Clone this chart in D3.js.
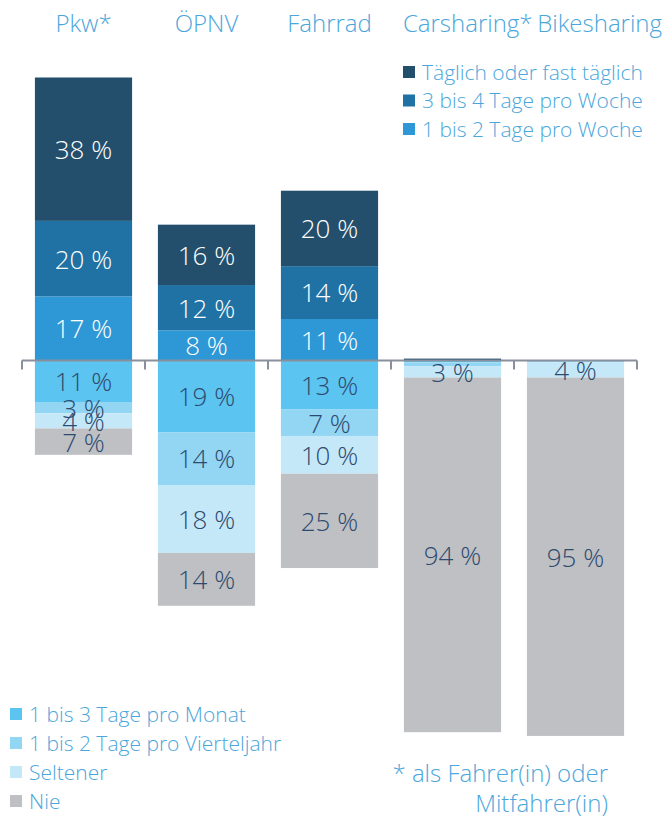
<!DOCTYPE html>
<html>
<head>
<meta charset="utf-8">
<script src="https://cdn.jsdelivr.net/npm/d3@7"></script>
<style>
  body { margin: 0; background: #fff; }
  svg { display: block; font-family: "Open Sans", sans-serif; }
</style>
</head>
<body>
<svg id="chart" width="665" height="818"></svg>
<script>
// Categories and series (percent)
const categories = ["Pkw*", "ÖPNV", "Fahrrad", "Carsharing*", "Bikesharing"];
const taeglich = [38, 16, 20, 0.5, 0];
const tage34Woche = [20, 12, 14, 0, 0];
const tage12Woche = [17, 8, 11, 0, 0];
const tage13Monat = [11, 19, 13, 0.5, 0];
const tage12Vierteljahr = [3, 14, 7, 1, 0.5];
const seltener = [4, 18, 10, 3, 4];
const nie = [7, 14, 25, 94, 95];

const upperNames = ["Täglich oder fast täglich", "3 bis 4 Tage pro Woche", "1 bis 2 Tage pro Woche"];
const lowerNames = ["1 bis 3 Tage pro Monat", "1 bis 2 Tage pro Vierteljahr", "Seltener", "Nie"];
const footnote = ["* als Fahrer(in) oder", "Mitfahrer(in)"];

// series stacked from the axis outwards
const upperSeries = [
  { name: upperNames[2], values: tage12Woche, color: "#2e98d6", text: "#fff" },
  { name: upperNames[1], values: tage34Woche, color: "#1f72a3", text: "#fff" },
  { name: upperNames[0], values: taeglich, color: "#234f6d", text: "#fff" }
];
const lowerSeries = [
  { name: lowerNames[0], values: tage13Monat, color: "#5bc4f0", text: "#2e4a6e" },
  { name: lowerNames[1], values: tage12Vierteljahr, color: "#92d6f4", text: "#2e4a6e" },
  { name: lowerNames[2], values: seltener, color: "#c5e8f8", text: "#2e4a6e" },
  { name: lowerNames[3], values: nie, color: "#bfc0c4", text: "#2e4a6e" }
];

const svg = d3.select("#chart");
const labelBlue = "#4ba6db";
const W = 665;

const x = d3.scaleBand()
  .domain(categories)
  .range([22, 637])
  .paddingInner(0.21)
  .paddingOuter(0.105);

const y = d3.scaleLinear()
  .domain([0, 75])
  .range([360.5, 77.5]);

// Build segments
const segments = [];
categories.forEach((cat, i) => {
  let acc = 0;
  upperSeries.forEach(s => {
    const v = s.values[i];
    segments.push({ cat, v, y0: acc, y1: acc + v, color: s.color, text: s.text });
    acc += v;
  });
  acc = 0;
  lowerSeries.forEach(s => {
    const v = s.values[i];
    segments.push({ cat, v, y0: acc, y1: acc - v, color: s.color, text: s.text });
    acc -= v;
  });
});

const bars = svg.append("g").attr("class", "bars");

bars.selectAll("rect")
  .data(segments.filter(d => d.v > 0))
  .enter()
  .append("rect")
  .attr("x", d => x(d.cat))
  .attr("width", x.bandwidth())
  .attr("y", d => Math.min(y(d.y0), y(d.y1)))
  .attr("height", d => Math.abs(y(d.y1) - y(d.y0)))
  .attr("fill", d => d.color);

// Axis line with ticks at band boundaries
const axis = svg.append("g").attr("class", "axis");
const r = x.range();
axis.append("line")
  .attr("x1", r[0]).attr("x2", r[1])
  .attr("y1", y(0)).attr("y2", y(0))
  .attr("stroke", "#8a909b")
  .attr("stroke-width", 2);

const tickXs = d3.range(categories.length + 1).map(i => r[0] + i * x.step());
axis.selectAll(".tick")
  .data(tickXs)
  .enter()
  .append("line")
  .attr("x1", d => d).attr("x2", d => d)
  .attr("y1", y(0)).attr("y2", y(0) + 9)
  .attr("stroke", "#8a909b")
  .attr("stroke-width", 2);

// Value labels
svg.append("g").attr("class", "values")
  .selectAll("text")
  .data(segments.filter(d => d.v >= 3))
  .enter()
  .append("text")
  .attr("x", d => x(d.cat) + x.bandwidth() / 2)
  .attr("y", d => (y(d.y0) + y(d.y1)) / 2)
  .attr("dy", "0.38em")
  .attr("text-anchor", "middle")
  .style("font-size", "26px")
  .style("font-weight", 300)
  .style("fill", d => d.text)
  .text(d => `${d.v} %`);

// Category titles: wide ones start at the bar edge, the last one hugs the page edge
const lastCat = categories[categories.length - 1];
svg.append("g").attr("class", "titles")
  .selectAll("text")
  .data(categories)
  .enter()
  .append("text")
  .attr("y", 32)
  .style("font-size", "24px")
  .style("font-weight", 300)
  .style("fill", labelBlue)
  .text(d => d)
  .each(function(d) {
    const w = this.getComputedTextLength();
    const el = d3.select(this);
    if (w <= x.bandwidth()) {
      el.attr("x", x(d) + x.bandwidth() / 2).attr("text-anchor", "middle");
    } else if (d === lastCat) {
      el.attr("x", W - 3).attr("text-anchor", "end");
    } else {
      el.attr("x", x(d) - 1).attr("text-anchor", "start");
    }
  });

// Legends
function legend(items, lx, ly, gap) {
  const g = svg.append("g").attr("transform", `translate(${lx},${ly})`);
  const row = g.selectAll("g")
    .data(items)
    .enter()
    .append("g")
    .attr("transform", (d, i) => `translate(0,${i * gap})`);
  row.append("rect")
    .attr("x", 0).attr("y", -6)
    .attr("width", 12).attr("height", 12)
    .attr("fill", d => d.color);
  row.append("text")
    .attr("x", 19)
    .attr("dy", "0.36em")
    .style("font-size", "21px")
    .style("font-weight", 300)
    .style("fill", labelBlue)
    .text(d => d.name);
}

legend(upperSeries.slice().reverse(), 403, 72, 28.5);
legend(lowerSeries, 10, 714, 29);

// Footnote
svg.append("text")
  .attr("x", 608).attr("y", 782)
  .attr("text-anchor", "end")
  .style("font-size", "24px")
  .style("font-weight", 300)
  .style("fill", labelBlue)
  .text(footnote[0]);
svg.append("text")
  .attr("x", 608).attr("y", 812)
  .attr("text-anchor", "end")
  .style("font-size", "24px")
  .style("font-weight", 300)
  .style("fill", labelBlue)
  .text(footnote[1]);
</script>
</body>
</html>
